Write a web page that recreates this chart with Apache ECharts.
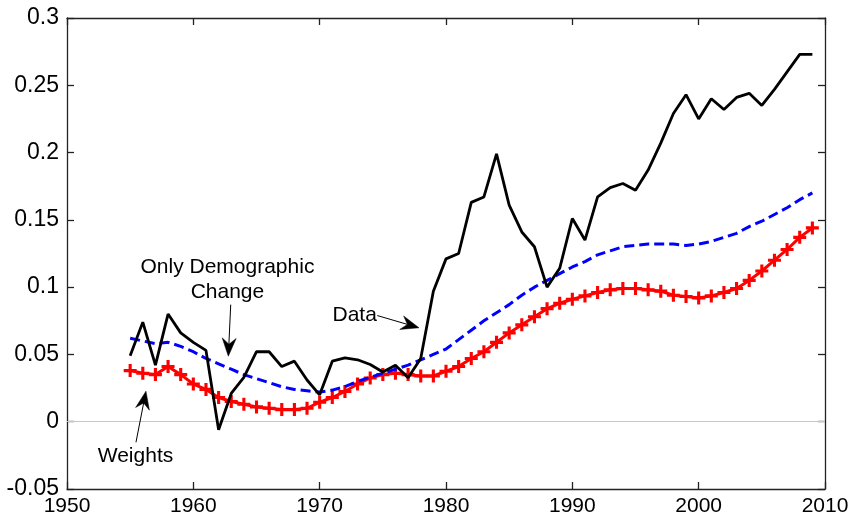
<!DOCTYPE html>
<html>
<head>
<meta charset="utf-8">
<script src="https://cdn.jsdelivr.net/npm/echarts@6/dist/echarts.min.js"></script>
<style>
  html, body { margin: 0; padding: 0; background: #fff; }
  #chart { width: 855px; height: 523px; }
</style>
</head>
<body>
<div id="chart"></div>
<script>
// ---- Data ----
const years = [1955,1956,1957,1958,1959,1960,1961,1962,1963,1964,1965,1966,1967,1968,1969,
  1970,1971,1972,1973,1974,1975,1976,1977,1978,1979,1980,1981,1982,1983,1984,
  1985,1986,1987,1988,1989,1990,1991,1992,1993,1994,1995,1996,1997,1998,1999,
  2000,2001,2002,2003,2004,2005,2006,2007,2008,2009];

const dataValues = [0.049,0.074,0.042,0.080,0.066,0.059,0.053,-0.006,0.021,0.033,0.052,0.052,0.041,0.045,0.031,
  0.020,0.045,0.0475,0.046,0.0425,0.037,0.042,0.0326,0.047,0.097,0.121,0.125,0.163,0.167,0.199,
  0.161,0.141,0.130,0.100,0.114,0.151,0.135,0.167,0.174,0.177,0.172,0.187,0.207,0.229,0.243,
  0.225,0.240,0.232,0.241,0.244,0.235,0.247,0.260,0.273,0.273];

const demographicValues = [0.062,0.060,0.058,0.059,0.056,0.052,0.047,0.043,0.039,0.035,0.032,0.029,0.026,0.024,0.023,
  0.022,0.0235,0.026,0.030,0.033,0.036,0.039,0.042,0.046,0.050,0.054,0.061,0.068,0.075,0.081,
  0.087,0.094,0.100,0.105,0.110,0.115,0.119,0.124,0.127,0.130,0.131,0.132,0.132,0.132,0.131,
  0.132,0.134,0.137,0.140,0.145,0.149,0.154,0.159,0.165,0.170];

const weightsValues = [0.038,0.036,0.035,0.041,0.035,0.028,0.024,0.018,0.015,0.013,0.011,0.010,0.009,0.009,0.010,
  0.0145,0.018,0.0225,0.028,0.0325,0.035,0.036,0.035,0.034,0.034,0.0375,0.041,0.047,0.052,0.059,
  0.066,0.072,0.078,0.084,0.088,0.091,0.0935,0.096,0.098,0.099,0.099,0.098,0.097,0.094,0.093,
  0.092,0.0935,0.096,0.099,0.105,0.112,0.120,0.128,0.137,0.144];

// annotations in data coordinates
const annotations = [
  { text: 'Only Demographic\nChange', at: [1962.7, 0.1055], from: [1962.96, 0.087], to: [1962.77, 0.0487] },
  { text: 'Weights', at: [1955.42, -0.0255], from: [1955.46, -0.0153], to: [1956.25, 0.0227] },
  { text: 'Data', at: [1972.77, 0.0789], from: [1974.56, 0.0789], to: [1977.86, 0.0698] }
];

const FONT = '"Liberation Sans", Arial, Helvetica, sans-serif';
const pairs = vals => years.map((y, i) => [y, vals[i]]);

const chart = echarts.init(document.getElementById('chart'), null, { renderer: 'canvas' });

const axisLineStyle = { color: '#222', width: 1.3 };
const xCommon = {
  type: 'value', min: 1950, max: 2010, interval: 10,
  axisLine: { show: true, onZero: false, lineStyle: axisLineStyle },
  axisTick: { show: true, inside: true, length: 7, lineStyle: axisLineStyle },
  splitLine: { show: false }
};
const yCommon = {
  type: 'value', min: -0.05, max: 0.3, interval: 0.05,
  axisLine: { show: true, onZero: false, lineStyle: axisLineStyle },
  axisTick: { show: true, inside: true, length: 7, lineStyle: axisLineStyle },
  splitLine: { show: false }
};

const plusSymbol = 'path://M0.38,0H0.62V0.38H1V0.62H0.62V1H0.38V0.62H0V0.38H0.38Z';

chart.setOption({
  animation: false,
  backgroundColor: '#fff',
  grid: { left: 67, right: 30, top: 18, bottom: 34, containLabel: false },
  xAxis: [
    Object.assign({}, xCommon, {
      position: 'bottom',
      axisLabel: { show: true, fontSize: 21, color: '#000', fontFamily: FONT, margin: 7,
        formatter: v => String(v) }
    }),
    Object.assign({}, xCommon, { position: 'top', axisLabel: { show: false } })
  ],
  yAxis: [
    Object.assign({}, yCommon, {
      position: 'left',
      axisLabel: { show: true, fontSize: 23, color: '#000', fontFamily: FONT, margin: 8,
        formatter: v => String(+v.toFixed(2)) }
    }),
    Object.assign({}, yCommon, { position: 'right', axisLabel: { show: false } })
  ],
  series: [
    {
      name: 'Weights', type: 'line', data: pairs(weightsValues),
      symbol: plusSymbol, symbolSize: 13, showSymbol: true,
      itemStyle: { color: '#ff0000' },
      lineStyle: { color: '#ff0000', width: 3 },
      z: 3,
      markLine: {
        silent: true, symbol: ['none', 'none'], label: { show: false },
        lineStyle: { color: '#c8c8c8', width: 1, type: 'solid' },
        data: [{ yAxis: 0 }]
      }
    },
    {
      name: 'Only Demographic Change', type: 'line', data: pairs(demographicValues),
      showSymbol: false, symbol: 'none',
      lineStyle: { color: '#0000ff', width: 3, type: [10, 5] },
      z: 4
    },
    {
      name: 'Data', type: 'line', data: pairs(dataValues),
      showSymbol: false, symbol: 'none',
      lineStyle: { color: '#000', width: 2.8 },
      z: 5
    }
  ]
});

// build annotations from data coordinates
const graphics = [];
annotations.forEach(a => {
  const p = chart.convertToPixel({ gridIndex: 0 }, a.at);
  const s = chart.convertToPixel({ gridIndex: 0 }, a.from);
  const t = chart.convertToPixel({ gridIndex: 0 }, a.to);
  graphics.push({
    type: 'text', x: p[0], y: p[1], z: 10,
    style: { text: a.text, fontSize: 21, fontFamily: FONT, fill: '#000',
      align: 'center', verticalAlign: 'middle', lineHeight: 24.5 }
  });
  const dx = t[0] - s[0], dy = t[1] - s[1];
  const len = Math.sqrt(dx * dx + dy * dy);
  const ux = dx / len, uy = dy / len;
  const nx = -uy, ny = ux;
  const L = 18, W = 14, N = 6;
  const base = [t[0] - ux * L, t[1] - uy * L];
  const notch = [t[0] - ux * (L - N), t[1] - uy * (L - N)];
  graphics.push({
    type: 'line', z: 10,
    shape: { x1: s[0], y1: s[1], x2: notch[0], y2: notch[1] },
    style: { stroke: '#000', lineWidth: 1 }
  });
  graphics.push({
    type: 'polygon', z: 10,
    shape: { points: [
      [t[0], t[1]],
      [base[0] + nx * W / 2, base[1] + ny * W / 2],
      notch,
      [base[0] - nx * W / 2, base[1] - ny * W / 2]
    ] },
    style: { fill: '#000', stroke: '#000', lineWidth: 0.5 }
  });
});
chart.setOption({ graphic: graphics });
</script>
</body>
</html>
